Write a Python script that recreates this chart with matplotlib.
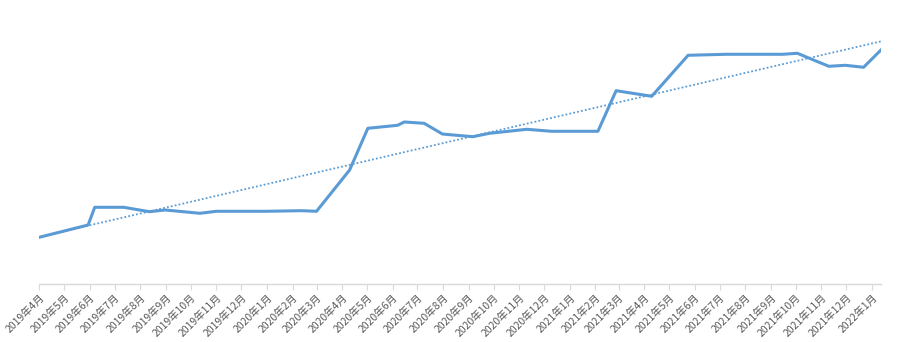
# coding=utf-8
import matplotlib
matplotlib.use('Agg')
import matplotlib.pyplot as plt
import matplotlib.dates as dates
import numpy as np
import pandas as pd

plt.rcParams['font.family'] = ['Noto Sans CJK SC', 'DejaVu Sans']

# y in arbitrary units
obs_dates = ['2019-04-01', '2019-05-30', '2019-06-07', '2019-07-12', '2019-08-12',
             '2019-08-31', '2019-10-12', '2019-11-01', '2019-12-31', '2020-02-12',
             '2020-03-01', '2020-04-10', '2020-05-02', '2020-06-07', '2020-06-15',
             '2020-07-09', '2020-07-31', '2020-08-09', '2020-09-06', '2020-09-26',
             '2020-11-10', '2020-12-10', '2021-02-04', '2021-02-26', '2021-04-10',
             '2021-05-24', '2021-07-09', '2021-09-15', '2021-10-03', '2021-11-10',
             '2021-11-30', '2021-12-22', '2022-01-12']
obs_values = [46.4, 58.7, 76.4, 76.4, 72.0, 73.7, 70.4, 72.4, 72.4, 73.0,
              72.4, 113.7, 155.4, 158.4, 161.7, 160.4, 149.7, 149.0, 147.0, 150.4,
              154.4, 152.4, 152.4, 193.0, 187.4, 228.4, 229.4, 229.4, 230.4, 217.4,
              218.4, 216.4, 233.7]
tick_months = pd.date_range('2019-04-01', '2022-01-01', freq='MS')
tick_labels = ['%d年%d月' % (d.year, d.month) for d in tick_months]

LINE_COLOR = '#5B9BD5'
AXIS_COLOR = '#D9D9D9'
TEXT_COLOR = '#595959'


def draw():
    x = pd.to_datetime(obs_dates)
    y = np.array(obs_values)

    fig = plt.figure(figsize=(8.97, 3.42), dpi=100)
    ax = fig.add_axes([0.0438, 0.1705, 0.9383, 0.80])

    ax.plot(x, y, color=LINE_COLOR, linewidth=2.2, solid_joinstyle='round', zorder=3)

    # linear trend, like excel's trendline
    xn = dates.date2num(x)
    k, b = np.polyfit(xn, y, 1)
    xt = np.array([xn[0], xn[-1]])
    ax.plot(xt, k * xt + b, color=LINE_COLOR, linewidth=1.3, linestyle=(0, (1, 1.2)), zorder=2)

    ax.set_xlim(xn[0], xn[-1])
    ax.set_ylim(0, 0.80 * 342)

    for side in ['top', 'right', 'left']:
        ax.spines[side].set_visible(False)
    ax.spines['bottom'].set_color(AXIS_COLOR)
    ax.spines['bottom'].set_linewidth(1.0)

    ax.set_yticks([])
    ax.set_xticks(dates.date2num(tick_months))
    ax.set_xticklabels(tick_labels, rotation=45, ha='right', va='top', rotation_mode='anchor',
                       fontsize=7.5, color=TEXT_COLOR)
    ax.tick_params(axis='x', direction='out', length=4, width=0.8, color=AXIS_COLOR, pad=2)

    fig.savefig('out.png', dpi=100)
    plt.close(fig)


draw()
